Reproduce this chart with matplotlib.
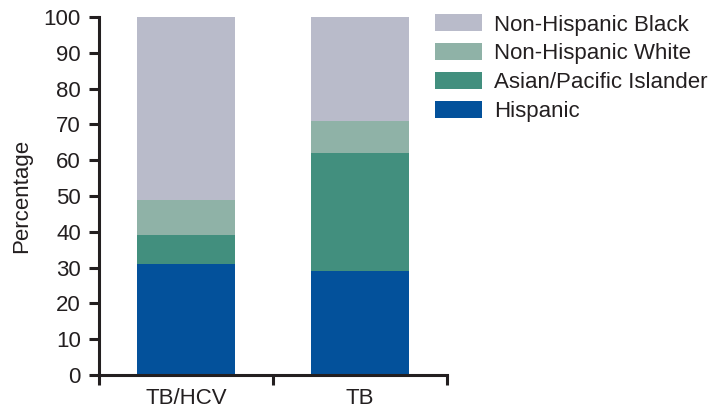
import matplotlib
matplotlib.use("Agg")
import matplotlib.pyplot as plt
import numpy as np
from matplotlib.patches import Patch

plt.rcParams['font.family'] = ['Liberation Sans', 'DejaVu Sans']

groups = ["TB/HCV", "TB"]
series = ["Hispanic", "Asian/Pacific Islander", "Non-Hispanic White", "Non-Hispanic Black"]
hispanic = [31, 29]
asian_pi = [8, 33]
nh_white = [10, 9]
nh_black = [51, 29]
colors = ["#03519B", "#428F7E", "#8FB2A7", "#B9BBCA"]
yticks = list(range(0, 101, 10))

text_color = "#231F20"
fs = 16

fig = plt.figure(figsize=(7.25, 4.13), dpi=100)
ax = fig.add_axes([0.1366, 0.092, 0.480, 0.867])

x = np.arange(len(groups))
bottom = np.zeros(len(groups))
handles = []
for vals, col, name in zip([hispanic, asian_pi, nh_white, nh_black], colors, series):
    ax.bar(x, vals, width=0.56, bottom=bottom, color=col, linewidth=0)
    bottom += np.array(vals)
    handles.append(Patch(facecolor=col, edgecolor="none", label=name))

ax.set_xlim(-0.5, 1.5)
ax.set_ylim(0, 100)
ax.set_yticks(yticks)
ax.set_yticklabels([str(t) for t in yticks])
ax.set_xticks([-0.5, 0.5, 1.5])
ax.set_xticklabels([])
ax.set_xticks(x, minor=True)
ax.set_xticklabels(groups, minor=True)
ax.tick_params(axis="x", which="minor", length=0, pad=9, labelsize=fs, labelcolor=text_color)
ax.tick_params(axis="x", which="major", length=7, width=2.2, color=text_color)
ax.tick_params(axis="y", length=7, width=2.2, color=text_color, labelsize=fs,
               labelcolor=text_color, pad=6)

for side in ["top", "right"]:
    ax.spines[side].set_visible(False)
for side in ["left", "bottom"]:
    ax.spines[side].set_linewidth(2.2)
    ax.spines[side].set_color(text_color)

ax.set_ylabel("Percentage", fontsize=fs, color=text_color, labelpad=8)

leg = fig.legend(handles=handles[::-1], loc="upper left", bbox_to_anchor=(0.600, 0.965),
                 frameon=False, fontsize=fs, handlelength=2.1, handleheight=0.8,
                 handletextpad=0.55, labelspacing=0.34, borderaxespad=0, borderpad=0)
for t in leg.get_texts():
    t.set_color(text_color)

fig.savefig("out.png", dpi=100)
